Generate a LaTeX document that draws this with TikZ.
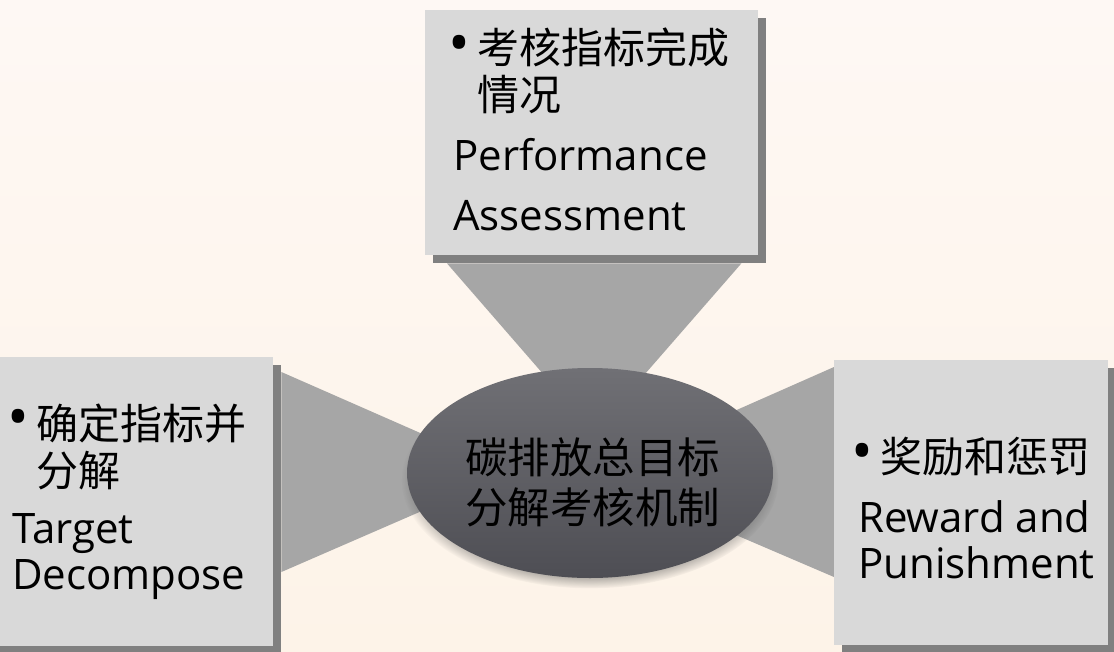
\documentclass[tikz,border=0pt]{standalone}
\usepackage{fontspec}
\setmainfont{Open Sans}
\newfontfamily\cjk{Noto Sans CJK SC}
\usetikzlibrary{shadows,calc,fadings,shapes.geometric}
\definecolor{bgtop}{HTML}{FEF8F4}
\definecolor{bgbot}{HTML}{FDF3E8}
\definecolor{boxfill}{HTML}{D9D9D9}
\definecolor{boxshadow}{HTML}{808080}
\definecolor{connfill}{HTML}{A6A6A6}
\definecolor{elltop}{HTML}{707075}
\definecolor{ellbot}{HTML}{4E4E54}
\pgfdeclarelayer{backdrop}
\pgfdeclarelayer{links}
\pgfsetlayers{backdrop,links,main}
\begin{document}
\begin{tikzpicture}[x=1pt,y=-1pt,
 infobox/.style={rectangle, fill=boxfill, draw=none, inner sep=0pt, anchor=north west,
   drop shadow={shadow xshift=8pt, shadow yshift=-8pt, fill=boxshadow, opacity=1}},
 connector/.style={fill=connfill, draw=none},
 hub/.style={ellipse, minimum width=366pt, minimum height=210pt, inner sep=0pt,
   top color=elltop, bottom color=ellbot, draw=none,
   circular drop shadow={shadow xshift=0pt, shadow yshift=-7pt, shadow scale=1.03, opacity=0.6, fill=black!70}},
 cjkline/.style={anchor=base west, inner sep=0pt, font=\cjk\fontsize{42}{50}\selectfont, text=black},
 enline/.style={anchor=base west, inner sep=0pt, font=\fontsize{42}{48}\selectfont, text=black},
 bul/.style={anchor=center, inner sep=0pt, font=\fontsize{58}{58}\selectfont, text=black}
]
\begin{pgfonlayer}{backdrop}
\shade[top color=bgtop, bottom color=bgbot] (0,0) rectangle (1114,651);
\end{pgfonlayer}
\useasboundingbox (0,0) rectangle (1114,651);

% boxes
\node[infobox, minimum width=333pt, minimum height=245pt] (tbox) at (425,10) {};
\node[infobox, minimum width=285pt, minimum height=289pt] (lbox) at (-12,357) {};
\node[infobox, minimum width=274pt, minimum height=285pt] (rbox) at (834,360) {};

% hub
\node[hub] (hub) at (590,473) {};
\node[cjkline, font=\cjk\fontsize{42.5}{50}\selectfont] (hubl1) at (465,473) {碳排放总目标};
\node[cjkline, font=\cjk\fontsize{42.5}{50}\selectfont] (hubl2) at (465,523) {分解考核机制};

% connectors
\begin{pgfonlayer}{links}
\fill[connector] ($(tbox.south west)+(22,8)$) -- ($(tbox.south east)+(-17,8)$)
  -- ($(hub.center)+(14,-52)$) -- ($(hub.center)+(-6,-52)$) -- cycle;
\fill[connector] ($(lbox.north east)+(8,15)$) -- ($(hub.center)+(-90,-5)$)
  -- ($(hub.center)+(-90,4)$) -- ($(lbox.north east)+(8,215)$) -- cycle;
\fill[connector] ($(rbox.north west)+(0,7)$) -- ($(hub.center)+(90,-38)$)
  -- ($(hub.center)+(90,38)$) -- ($(rbox.north west)+(0,217)$) -- cycle;
\end{pgfonlayer}

% top box text
\node[bul] (tbul) at (459,49) {•};
\node[cjkline] (tl1) at (477,63) {考核指标完成};
\node[cjkline] (tl2) at (477,110) {情况};
\node[enline] (tl3) at (453,170) {Performance};
\node[enline] (tl4) at (453,230) {Assessment};

% left box text
\node[bul] (lbul) at (18,423) {•};
\node[cjkline] (ll1) at (36,439) {确定指标并};
\node[cjkline] (ll2) at (36,486) {分解};
\node[enline] (ll3) at (12,543) {Target};
\node[enline] (ll4) at (12,589) {Decompose};

% right box text
\node[bul] (rbul) at (862,457) {•};
\node[cjkline] (rl1) at (880,472) {奖励和惩罚};
\node[enline] (rl2) at (858,532) {Reward and};
\node[enline] (rl3) at (858,578) {Punishment};
\end{tikzpicture}
\end{document}
